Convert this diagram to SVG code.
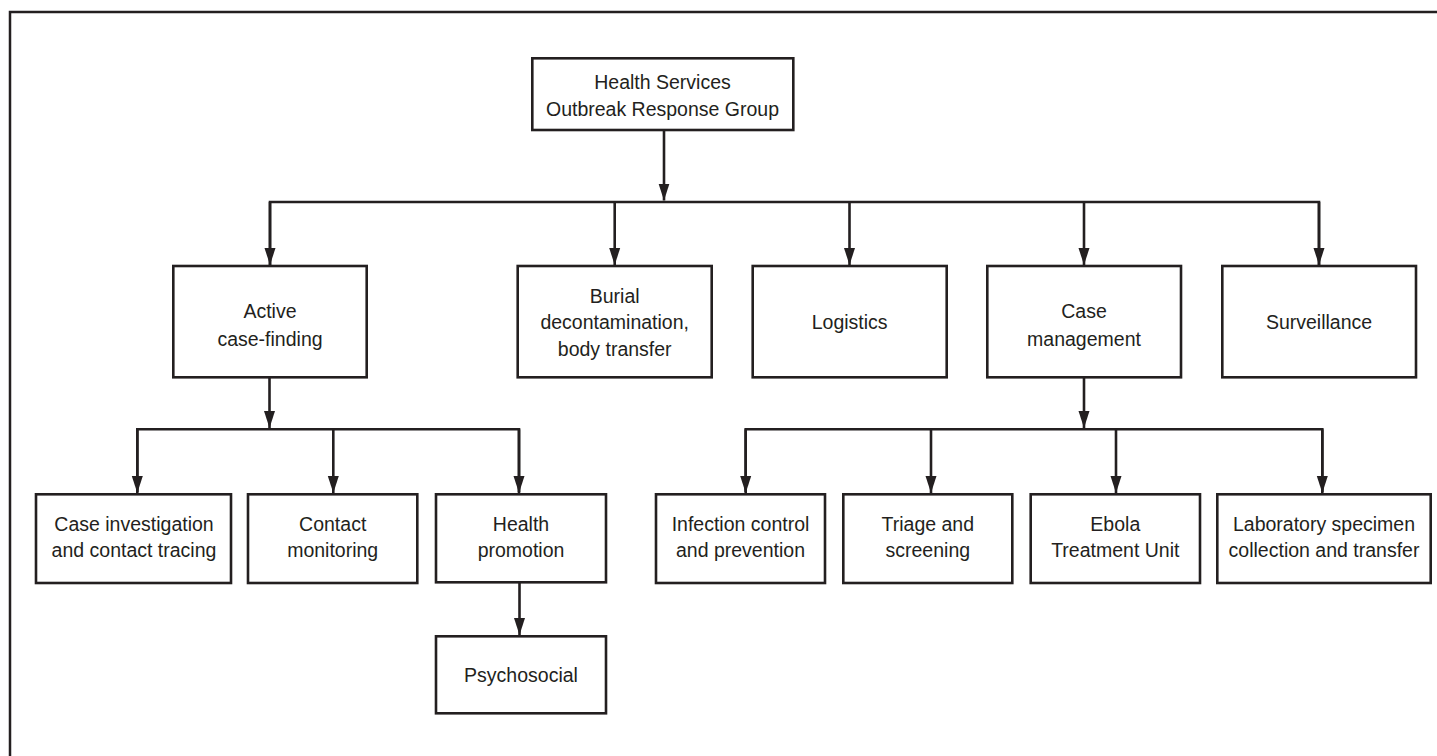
<svg xmlns="http://www.w3.org/2000/svg" width="1437" height="756" viewBox="0 0 1437 756">
<style>
.bg{fill:#ffffff}
.frame{fill:none;stroke:#231f20;stroke-width:2.5}
.box{fill:#ffffff;stroke:#231f20;stroke-width:2.6}
.lbl{font-family:"Liberation Sans",Arial,sans-serif;font-size:19.5px;fill:#231f20;text-anchor:middle}
.wire{fill:none;stroke:#231f20;stroke-width:2.6}
.arr{fill:none;stroke:#231f20;stroke-width:2.6;marker-end:url(#ah)}
</style>
<defs>
<marker id="ah" markerUnits="userSpaceOnUse" markerWidth="18" markerHeight="12" refX="17" refY="6" orient="auto">
<path d="M0,0.5 L17,6 L0,11.5 Z" fill="#231f20"/>
</marker>
</defs>
<rect class="bg" x="0" y="0" width="1437" height="756"/>
<path class="frame" d="M10,756 L10,12 L1437,12"/>

<g id="connectors">
<line class="arr" x1="664" y1="130" x2="664" y2="200.5"/>
<polyline class="wire" points="270,265 270,202 1319,202 1319,265"/>
<line class="arr" x1="270" y1="202" x2="270" y2="265"/>
<line class="arr" x1="614.7" y1="202" x2="614.7" y2="265"/>
<line class="arr" x1="849.5" y1="202" x2="849.5" y2="265"/>
<line class="arr" x1="1084" y1="202" x2="1084" y2="265"/>
<line class="arr" x1="1319" y1="202" x2="1319" y2="265"/>

<line class="arr" x1="269.5" y1="377" x2="269.5" y2="428"/>
<polyline class="wire" points="137.3,492 137.3,429.3 519,429.3 519,492"/>
<line class="arr" x1="137.3" y1="429.3" x2="137.3" y2="493"/>
<line class="arr" x1="333.3" y1="429.3" x2="333.3" y2="493"/>
<line class="arr" x1="519" y1="429.3" x2="519" y2="493"/>
<line class="arr" x1="519.5" y1="582" x2="519.5" y2="635"/>

<line class="arr" x1="1084" y1="377" x2="1084" y2="428"/>
<polyline class="wire" points="745.7,492 745.7,429.3 1322.3,429.3 1322.3,492"/>
<line class="arr" x1="745.7" y1="429.3" x2="745.7" y2="493"/>
<line class="arr" x1="931" y1="429.3" x2="931" y2="493"/>
<line class="arr" x1="1116" y1="429.3" x2="1116" y2="493"/>
<line class="arr" x1="1322.3" y1="429.3" x2="1322.3" y2="493"/>
</g>

<g id="n-root">
<rect class="box" x="532.3" y="58.3" width="261" height="71.7"/>
<text class="lbl" x="662.5" y="89.3">Health Services</text>
<text class="lbl" x="662.5" y="116">Outbreak Response Group</text>
</g>

<g id="n-active">
<rect class="box" x="173.3" y="266" width="193.4" height="111.3"/>
<text class="lbl" x="270" y="318.3">Active</text>
<text class="lbl" x="270" y="345.7">case-finding</text>
</g>
<g id="n-burial">
<rect class="box" x="517.7" y="266" width="194" height="111.3"/>
<text class="lbl" x="614.7" y="302.7">Burial</text>
<text class="lbl" x="614.7" y="329.3">decontamination,</text>
<text class="lbl" x="614.7" y="356">body transfer</text>
</g>
<g id="n-logistics">
<rect class="box" x="752.7" y="266" width="194" height="111.3"/>
<text class="lbl" x="849.7" y="329.3">Logistics</text>
</g>
<g id="n-casemgmt">
<rect class="box" x="987.3" y="266" width="193.7" height="111.3"/>
<text class="lbl" x="1084" y="318.3">Case</text>
<text class="lbl" x="1084" y="345.7">management</text>
</g>
<g id="n-surveillance">
<rect class="box" x="1222.3" y="266" width="193.7" height="111.3"/>
<text class="lbl" x="1319" y="329.3">Surveillance</text>
</g>

<g id="n-caseinv">
<rect class="box" x="36" y="494.3" width="195" height="88.7"/>
<text class="lbl" x="134" y="530.7">Case investigation</text>
<text class="lbl" x="134" y="557.3">and contact tracing</text>
</g>
<g id="n-contact">
<rect class="box" x="248" y="494.3" width="169.3" height="88.7"/>
<text class="lbl" x="332.7" y="530.7">Contact</text>
<text class="lbl" x="332.7" y="557.3">monitoring</text>
</g>
<g id="n-healthpromo">
<rect class="box" x="436" y="494.3" width="170" height="88"/>
<text class="lbl" x="521" y="530.7">Health</text>
<text class="lbl" x="521" y="557.3">promotion</text>
</g>
<g id="n-psychosocial">
<rect class="box" x="436" y="636.3" width="170" height="77"/>
<text class="lbl" x="521" y="682">Psychosocial</text>
</g>

<g id="n-infection">
<rect class="box" x="656" y="494.3" width="169" height="88.7"/>
<text class="lbl" x="740.5" y="530.7">Infection control</text>
<text class="lbl" x="740.5" y="557.3">and prevention</text>
</g>
<g id="n-triage">
<rect class="box" x="843.3" y="494.3" width="169" height="88.7"/>
<text class="lbl" x="927.8" y="530.7">Triage and</text>
<text class="lbl" x="927.8" y="557.3">screening</text>
</g>
<g id="n-ebola">
<rect class="box" x="1030.7" y="494.3" width="169.3" height="88.7"/>
<text class="lbl" x="1115.3" y="530.7">Ebola</text>
<text class="lbl" x="1115.3" y="557.3">Treatment Unit</text>
</g>
<g id="n-lab">
<rect class="box" x="1217.3" y="494.3" width="213.4" height="88.7"/>
<text class="lbl" x="1324" y="530.7">Laboratory specimen</text>
<text class="lbl" x="1324" y="557.3">collection and transfer</text>
</g>
</svg>
